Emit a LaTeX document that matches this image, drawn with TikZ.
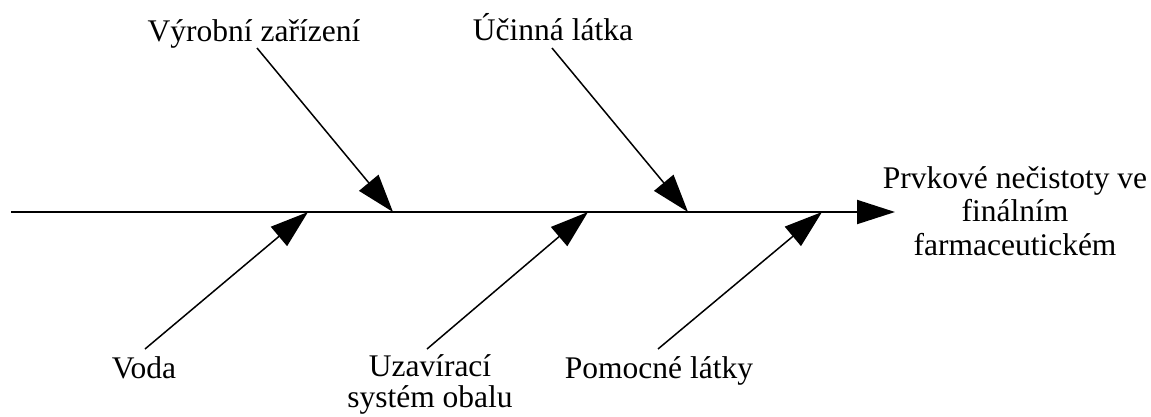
\documentclass[tikz,border=0pt]{standalone}
\usepackage{fontspec}
\setmainfont{Liberation Serif}
\usetikzlibrary{arrows.meta}
\tikzset{
  lbl/.style={font=\fontsize{31.5}{34}\selectfont, inner sep=2pt, align=center},
  branch/.style={line width=1.5pt, -{Triangle[length=38pt,width=25pt]}},
  spine/.style={line width=2pt, -{Triangle[length=38pt,width=24pt]}}
}
\begin{document}
\begin{tikzpicture}[x=1pt,y=-1pt]
\useasboundingbox (0,0) rectangle (1151,416);
% spine
\coordinate (s0) at (11,212);
\node[lbl, font=\fontsize{31.5}{33.5}\selectfont] (out) at (1015,211) {Prvkové nečistoty ve\\finálním\\farmaceutickém};
\coordinate (s1) at (895,212);
\draw[spine] (s0) -- (s1);
% junctions on the spine
\coordinate (jV) at (393,212);
\coordinate (jU) at (688,212);
\coordinate (jW) at (308,212);
\coordinate (jZ) at (588,212);
\coordinate (jP) at (822,212);
% branch starts
\coordinate (bV) at (257,48);
\coordinate (bU) at (552,48);
\coordinate (bW) at (145,349);
\coordinate (bZ) at (427,349);
\coordinate (bP) at (658,349);
% labels
\node[lbl, anchor=base] (vyr) at (254,41) {Výrobní zařízení};
\node[lbl, anchor=base] (uci) at (553,40) {Účinná látka};
\node[lbl, anchor=north] (voda) at (144,354) {Voda};
\node[lbl, anchor=north, font=\fontsize{31.5}{31}\selectfont] (uza) at (430,352) {Uzavírací\\systém obalu};
\node[lbl, anchor=north] (pom) at (659,354) {Pomocné látky};
% branches
\draw[branch] (bV) -- (jV);
\draw[branch] (bU) -- (jU);
\draw[branch] (bW) -- (jW);
\draw[branch] (bZ) -- (jZ);
\draw[branch] (bP) -- (jP);
\end{tikzpicture}
\end{document}
